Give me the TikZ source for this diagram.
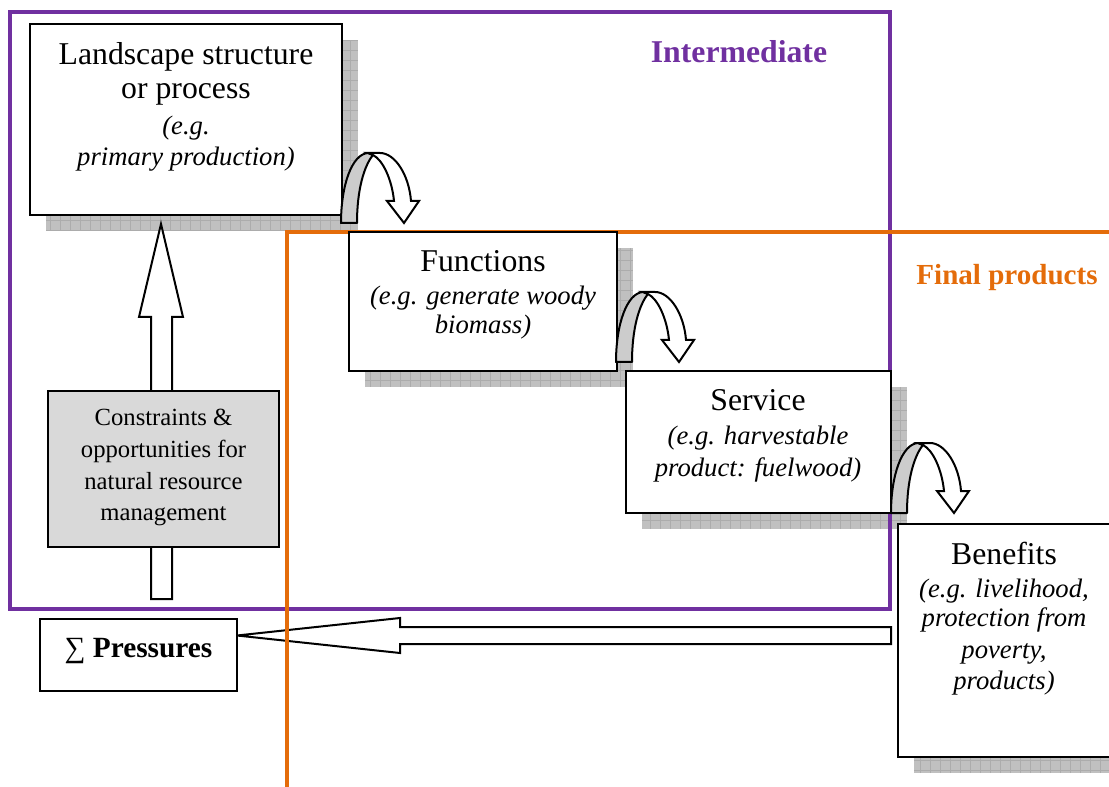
\documentclass[tikz,border=0pt]{standalone}
\usepackage{fontspec}
\setmainfont{Liberation Serif}
\usetikzlibrary{calc,fit}
\definecolor{purpleframe}{RGB}{112,48,160}
\definecolor{orangeframe}{RGB}{228,108,10}
\definecolor{shadowgray}{RGB}{192,192,192}
\definecolor{shadowgrid}{RGB}{172,172,172}
\definecolor{bandgray}{RGB}{204,204,204}
\definecolor{boxgray}{RGB}{217,217,217}
\tikzset{
  box/.style={draw, line width=1.5pt, fill=white, inner sep=0pt},
  greybox/.style={box, fill=boxgray},
  lbl/.style={anchor=base, inner sep=0pt},
  mainf/.style={lbl, font=\fontsize{23.8}{28}\selectfont},
  itf/.style={lbl, font=\fontsize{20}{24}\selectfont\itshape},
  smallf/.style={lbl, font=\fontsize{18.5}{22}\selectfont},
  blockarrow/.style={draw, fill=white, line width=1.5pt, line join=miter},
  frameline/.style={line width=2.3pt},
  uturn/.pic={
    \filldraw[fill=bandgray, line width=1.5pt, line join=round]
      (11,83) .. controls (11,45) and (22,14) .. (38,13)
      -- (43,15) .. controls (34,26) and (27,50) .. (27,83) -- cycle;
    \filldraw[fill=white, line width=1.5pt, line join=miter]
      (38,13) -- (50,13) .. controls (65,13) and (79,35) .. (81,61)
      -- (89,61) -- (74,83) -- (57,61) -- (64,61)
      .. controls (62,40) and (53,20) .. (43,15) -- cycle;
  }
}
\newcommand\dropshadow[2]{%
  \fill[shadowgray] ($(#1)+(16,16)$) rectangle ($(#2)+(16,16)$);
  \draw[shadowgrid, line width=0.4pt, step=7.5pt] ($(#1)+(16,16)$) grid ($(#2)+(16,16)$);
}
\begin{document}
\begin{tikzpicture}[x=0.75pt, y=-0.75pt]
\useasboundingbox (0,0) rectangle (1109,787);
\clip (0,0) rectangle (1109,787);

% box corners
\coordinate (landNW) at (30,24);   \coordinate (landSE) at (342,215);
\coordinate (funcNW) at (349,232); \coordinate (funcSE) at (617,371);
\coordinate (servNW) at (626,371); \coordinate (servSE) at (891,513);
\coordinate (beneNW) at (898,524); \coordinate (beneSE) at (1125,757);

% shadows
\dropshadow{landNW}{landSE}
\dropshadow{funcNW}{funcSE}
\dropshadow{servNW}{servSE}
\dropshadow{beneNW}{beneSE}

% Pressures block arrow (from Benefits to Pressures)
\coordinate (ptip) at (237,635.5);
\coordinate (pend) at (891,635.5);
\draw[blockarrow] ($(pend)+(0,-8.5)$) -- (400,627) -- (400,618) -- (ptip)
   -- (400,653) -- (400,644) -- ($(pend)+(0,8.5)$) -- cycle;

% frames
\draw[frameline, purpleframe] (10,12) rectangle (890,609);
\draw[frameline, orangeframe] (287,800) -- (287,232) -- (1120,232);

% boxes (nodes)
\node[box, fit=(landNW)(landSE)] (land) {};
\node[box, fit=(funcNW)(funcSE)] (func) {};
\node[box, fit=(servNW)(servSE)] (serv) {};
\node[box, fit=(beneNW)(beneSE)] (bene) {};
\node[box, fit={(40,619) (237,691)}] (press) {};

% vertical block arrow (constraints -> landscape)
\coordinate (vtip) at (161,224);
\draw[blockarrow] (151,599) -- (151,317) -- (139,317) -- (vtip) -- (183,317)
   -- (172,317) -- (172,599) -- cycle;
\node[greybox, fit={(48,391) (279,547)}] (constr) {};

% u-turn arrows
\pic at (330,140) {uturn};
\pic at (605,279) {uturn};
\pic at (880,430) {uturn};

% frame labels
\node[lbl, font=\fontsize{23.8}{28}\selectfont\bfseries, text=purpleframe] (interm) at (739,63) {Intermediate};
\node[lbl, font=\fontsize{21.8}{26}\selectfont\bfseries, text=orangeframe] (final) at (1007,285) {Final products};

% texts
\node[mainf] (land1) at (186,64.5) {Landscape structure};
\node[mainf] (land2) at (186,99) {or process};
\node[itf] (land3) at (186,135) {(e.g.};
\node[itf] (land4) at (186,166) {primary production)};

\node[mainf] (func1) at (483,272) {Functions};
\node[itf] (func2) at (483,305) {(e.g. generate woody};
\node[itf] (func3) at (483,334) {biomass)};

\node[mainf] (serv1) at (758,411) {Service};
\node[itf] (serv2) at (758,445) {(e.g. harvestable};
\node[itf] (serv3) at (758,476) {product: fuelwood)};

\node[mainf] (bene1) at (1004,564) {Benefits};
\node[itf] (bene2) at (1004,597) {(e.g. livelihood,};
\node[itf] (bene3) at (1004,626) {protection from};
\node[itf] (bene4) at (1004,658) {poverty,};
\node[itf] (bene5) at (1004,689) {products)};

\node[smallf] (con1) at (163.5,426) {Constraints \&};
\node[smallf] (con2) at (163.5,457) {opportunities for};
\node[smallf] (con3) at (163.5,489) {natural resource};
\node[smallf] (con4) at (163.5,520) {management};

\node[lbl, font=\fontsize{22}{26}\selectfont] (presst) at (138.5,657) {∑ \textbf{Pressures}};
\end{tikzpicture}
\end{document}
